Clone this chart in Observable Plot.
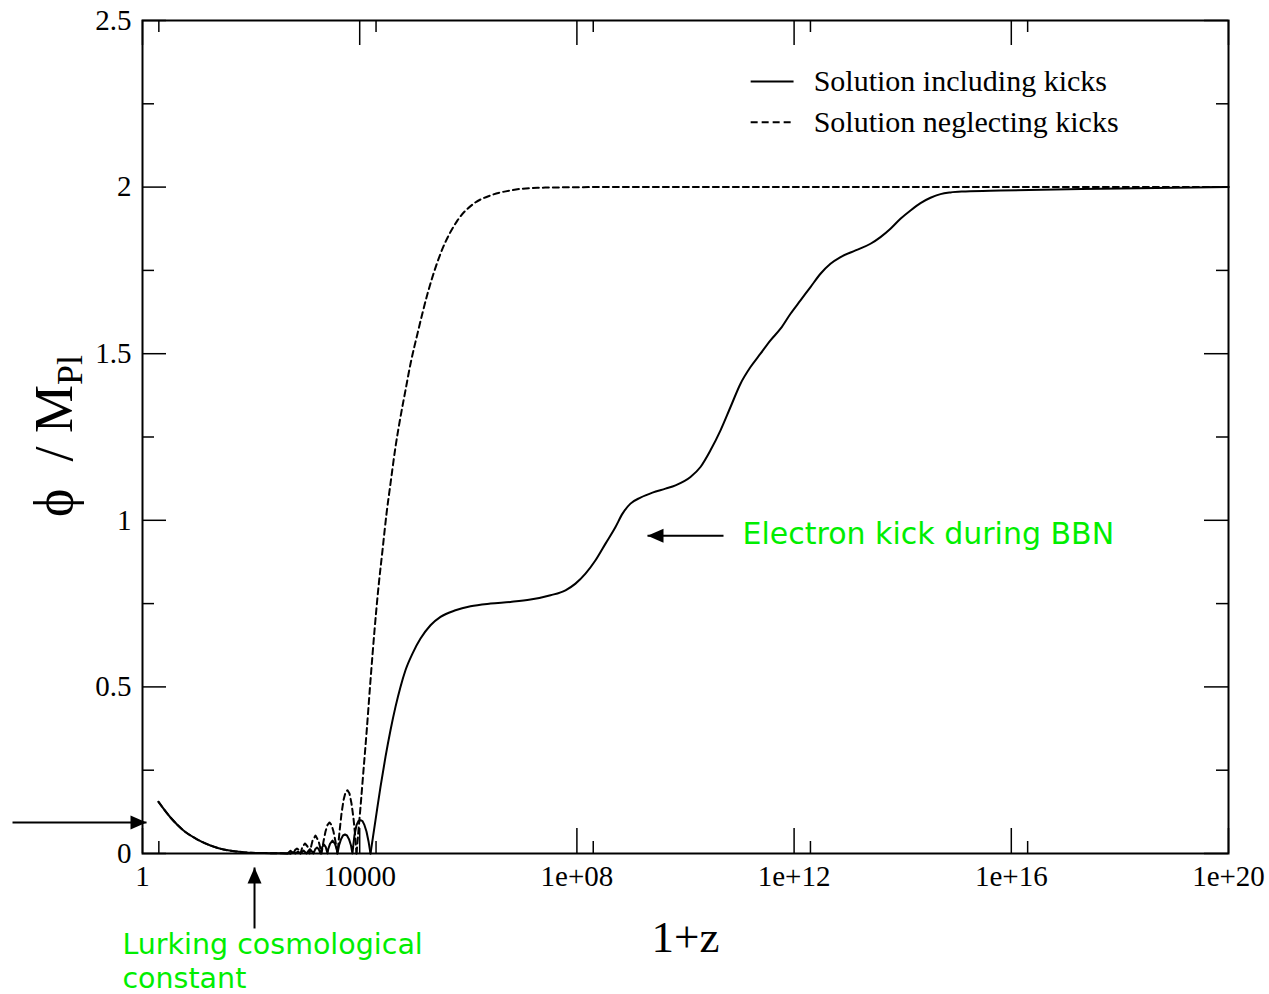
<!DOCTYPE html>
<html><head><meta charset="utf-8">
<script src="https://cdn.jsdelivr.net/npm/d3@7"></script>
<script src="https://cdn.jsdelivr.net/npm/@observablehq/plot@0.6"></script>
<style>
html,body{margin:0;padding:0;background:#fff}
#chart{width:1269px;height:994px}
</style>
</head><body><div id="chart"></div>
<script>
// ---------- data ----------
const xMajorTicks = [1, 1e4, 1e8, 1e12, 1e16, 1e20];
const xMajorLabels = ["1", "10000", "1e+08", "1e+12", "1e+16", "1e+20"];
const xMinorTicks = [2, 2e4, 2e8, 2e12, 2e16];
const yMajorTicks = [0, 0.5, 1, 1.5, 2, 2.5];
const yMajorLabels = ["0", "0.5", "1", "1.5", "2", "2.5"];
const yMinorTicks = [0.25, 0.75, 1.25, 1.75, 2.25];
const seriesNames = ["Solution including kicks", "Solution neglecting kicks"];

// log10(1+z) and phi/M_Pl, solution including kicks
const log10OnePlusZIncluding = [
  0.295, 0.516, 0.755, 1.013, 1.252, 1.492, 1.750, 1.989, 2.357, 2.726,
  2.772, 2.818, 2.864, 2.910, 2.965, 3.020, 3.085, 3.149,
  3.180, 3.214, 3.247, 3.278, 3.309, 3.343, 3.376, 3.407,
  3.422, 3.453, 3.499, 3.545, 3.576, 3.591,
  3.619, 3.656, 3.692, 3.729, 3.766, 3.803, 3.840, 3.867,
  3.886, 3.904, 3.941, 3.978, 4.015, 4.052, 4.088, 4.125, 4.162, 4.199,
  4.291, 4.383, 4.475, 4.567, 4.659, 4.751, 4.843, 4.972, 5.120, 5.304,
  5.488, 5.764, 6.041, 6.409, 6.777, 7.145, 7.514, 7.790, 7.974, 8.158,
  8.343, 8.527, 8.711, 8.840, 8.987, 9.171, 9.392, 9.632, 9.816, 10.092,
  10.276, 10.460, 10.645, 10.829, 11.013, 11.197, 11.381, 11.565, 11.750, 11.934,
  12.118, 12.302, 12.486, 12.670, 12.855, 13.131, 13.407, 13.591, 13.775, 13.959,
  14.144, 14.328, 14.512, 14.696, 14.880, 15.157, 15.801, 17.643, 20
];
const phiIncluding = [
  0.155, 0.108, 0.069, 0.042, 0.024, 0.012, 0.006, 0.002, 0.001, 0,
  0.004, 0, 0.006, 0, 0.009, 0, 0.013, 0,
  0.0127, 0.018, 0.0127, 0, 0.019, 0.027, 0.019, 0,
  0.014, 0.029, 0.039, 0.029, 0.014, 0,
  0.024, 0.043, 0.054, 0.057, 0.054, 0.043, 0.024, 0,
  0.03, 0.055, 0.085, 0.098, 0.10, 0.097, 0.085, 0.066, 0.037, 0,
  0.10, 0.20, 0.29, 0.37, 0.44, 0.50, 0.55, 0.60, 0.645, 0.685,
  0.71, 0.73, 0.742, 0.75, 0.755, 0.762, 0.775, 0.79, 0.81, 0.84,
  0.88, 0.93, 0.98, 1.02, 1.05, 1.068, 1.083, 1.095, 1.105, 1.13,
  1.16, 1.21, 1.27, 1.34, 1.41, 1.46, 1.50, 1.54, 1.575, 1.62,
  1.66, 1.70, 1.74, 1.77, 1.79, 1.81, 1.83, 1.85, 1.875, 1.905,
  1.93, 1.952, 1.968, 1.979, 1.984, 1.987, 1.99, 1.995, 2.0
];

// log10(1+z) and phi/M_Pl, solution neglecting kicks
const log10OnePlusZNeglecting = [
  0.295, 0.516, 0.755, 1.013, 1.252, 1.492, 1.750, 1.989, 2.357, 2.670,
  2.726, 2.781, 2.812, 2.845, 2.878, 2.910,
  2.947, 2.993, 3.039, 3.076,
  3.103, 3.131, 3.186, 3.241, 3.269, 3.297,
  3.333, 3.370, 3.407, 3.444, 3.481, 3.517, 3.554, 3.591,
  3.628, 3.665, 3.702, 3.738, 3.775, 3.812, 3.849, 3.886, 3.913, 3.941,
  3.978, 4.015, 4.070, 4.125, 4.199, 4.273, 4.346, 4.420, 4.494, 4.567,
  4.659, 4.751, 4.843, 4.936, 5.064, 5.249, 5.488, 5.801, 6.096, 6.409,
  6.777, 7.274, 8.435, 20
];
const phiNeglecting = [
  0.155, 0.108, 0.069, 0.042, 0.024, 0.012, 0.006, 0.002, 0.001, 0,
  0.008, 0, 0.011, 0.015, 0.011, 0,
  0.021, 0.03, 0.021, 0,
  0.02, 0.038, 0.054, 0.038, 0.02, 0,
  0.036, 0.066, 0.086, 0.093, 0.086, 0.066, 0.036, 0,
  0.065, 0.12, 0.16, 0.183, 0.19, 0.18, 0.15, 0.105, 0.06, 0,
  0.07, 0.14, 0.25, 0.36, 0.52, 0.67, 0.80, 0.91, 1.02, 1.11,
  1.22, 1.31, 1.39, 1.47, 1.56, 1.68, 1.80, 1.90, 1.95, 1.975,
  1.99, 1.998, 2.0, 2.0
];

// ---------- build tables ----------
const including = log10OnePlusZIncluding.map((l, i) => ({lx: l, x: 10 ** l, phi: phiIncluding[i]}));
const neglecting = log10OnePlusZNeglecting.map((l, i) => ({lx: l, x: 10 ** l, phi: phiNeglecting[i]}));
// oscillating stretch (drawn with straight segments so the arches keep their cusps)
const oscIncluding = [2.726, 4.199];
const oscNeglecting = [2.670, 3.941];
const part = (tbl, [a, b], which) => tbl.filter(d =>
  which === "before" ? d.lx <= a : which === "osc" ? d.lx >= a && d.lx <= b : d.lx >= b);
const xLabelOf = new Map(xMajorTicks.map((t, i) => [t, xMajorLabels[i]]));
const yLabelOf = new Map(yMajorTicks.map((t, i) => [t, yMajorLabels[i]]));

// ---------- annotations (data coordinates) ----------
const legendRows = [
  {x1: 10 ** 11.2, x2: 10 ** 11.99, xt: 10 ** 12.36, y: 2.317, label: seriesNames[0]},
  {x1: 10 ** 11.2, x2: 10 ** 11.99, xt: 10 ** 12.36, y: 2.195, label: seriesNames[1]}
];
const arrows = [
  {x1: 10 ** -2.394, y1: 0.093, x2: 10 ** 0.074, y2: 0.093, dir: "right"},
  {x1: 10 ** 10.70, y1: 0.954, x2: 10 ** 9.30, y2: 0.954, dir: "left"},
  {x1: 10 ** 2.063, y1: -0.225, x2: 10 ** 2.063, y2: -0.042, dir: "up"}
];
const greenNotes = [
  {x: 10 ** 11.05, y: 0.958, text: "Electron kick during BBN", size: 30},
  {x: 10 ** -0.37, y: -0.273, text: "Lurking cosmological", size: 28.5},
  {x: 10 ** -0.37, y: -0.377, text: "constant", size: 28.5}
];

// ---------- layout ----------
const W = 1269, H = 994, ML = 142, MR = 41, MT = 20, MB = 141;
const PW = W - ML - MR, PH = H - MT - MB;
const serif = "'Liberation Serif', 'Times New Roman', Times, serif";
const green = "#00ee00";

function headSymbol(dir) {
  const L = 16, h = 7;
  return {
    draw(ctx) {
      if (dir === "right") { ctx.moveTo(0, 0); ctx.lineTo(-L, -h); ctx.lineTo(-L, h); }
      else if (dir === "left") { ctx.moveTo(0, 0); ctx.lineTo(L, -h); ctx.lineTo(L, h); }
      else { ctx.moveTo(0, 0); ctx.lineTo(-h, L); ctx.lineTo(h, L); }
      ctx.closePath();
    }
  };
}

function seriesMarks(tbl, osc, extra) {
  const base = {x: "x", y: "phi", stroke: "#000", strokeWidth: 2, ...extra};
  return [
    Plot.line(part(tbl, osc, "before"), {...base, curve: "monotone-x"}),
    Plot.line(part(tbl, osc, "osc"), {...base, curve: "linear"}),
    Plot.line(part(tbl, osc, "after"), {...base, curve: "monotone-x"})
  ];
}

const marks = [
  // ticks (inward, all four sides)
  Plot.tickX(xMajorTicks, {x: d => d, insetTop: PH - 25, strokeWidth: 1.5}),
  Plot.tickX(xMajorTicks, {x: d => d, insetBottom: PH - 25, strokeWidth: 1.5}),
  Plot.tickX(xMinorTicks, {x: d => d, insetTop: PH - 12, strokeWidth: 1.5}),
  Plot.tickX(xMinorTicks, {x: d => d, insetBottom: PH - 12, strokeWidth: 1.5}),
  Plot.tickY(yMajorTicks, {y: d => d, insetRight: PW - 24, strokeWidth: 1.5}),
  Plot.tickY(yMajorTicks, {y: d => d, insetLeft: PW - 24, strokeWidth: 1.5}),
  Plot.tickY(yMinorTicks, {y: d => d, insetRight: PW - 12, strokeWidth: 1.5}),
  Plot.tickY(yMinorTicks, {y: d => d, insetLeft: PW - 12, strokeWidth: 1.5}),
  // axes labels
  Plot.axisX(xMajorTicks, {anchor: "bottom", tickSize: 0, tickPadding: 12, tickFormat: d => xLabelOf.get(d),
    fontSize: 29, fontFamily: serif, fill: "#000", label: null}),
  Plot.axisY(yMajorTicks, {anchor: "left", tickSize: 0, tickPadding: 11, tickFormat: d => yLabelOf.get(d),
    fontSize: 29, fontFamily: serif, fill: "#000", label: null}),
  // curves
  ...seriesMarks(including, oscIncluding, {}),
  ...seriesMarks(neglecting, oscNeglecting, {strokeDasharray: "6,4"}),
  // frame
  Plot.frame({stroke: "#000", strokeWidth: 2}),
  // legend
  Plot.link([legendRows[0]], {x1: "x1", x2: "x2", y1: "y", y2: "y", stroke: "#000", strokeWidth: 2}),
  Plot.link([legendRows[1]], {x1: "x1", x2: "x2", y1: "y", y2: "y", stroke: "#000", strokeWidth: 2, strokeDasharray: "7,4"}),
  Plot.text(legendRows, {x: "xt", y: "y", text: "label", textAnchor: "start", lineAnchor: "middle",
    fontSize: 30, fontFamily: serif, fill: "#000"}),
  // x axis title
  Plot.text(["1+z"], {frameAnchor: "bottom", text: d => d, dy: 98, fontSize: 45, fontFamily: serif, fill: "#000"}),
  // arrows
  Plot.link(arrows, {x1: "x1", y1: "y1", x2: "x2", y2: "y2", stroke: "#000", strokeWidth: 2}),
  ...arrows.map(a => Plot.dot([a], {x: "x2", y: "y2", symbol: headSymbol(a.dir), r: 6, fill: "#000", stroke: null})),
  // green annotations
  ...greenNotes.map(n => Plot.text([n], {x: "x", y: "y", text: "text", textAnchor: "start", lineAnchor: "middle",
    fontSize: n.size, fontFamily: "'DejaVu Sans', sans-serif", fill: green}))
];

const chart = Plot.plot({
  width: W, height: H,
  marginLeft: ML, marginRight: MR, marginTop: MT, marginBottom: MB,
  style: {background: "#fff", overflow: "visible"},
  x: {type: "log", domain: [1, 1e20]},
  y: {domain: [0, 2.5]},
  marks
});
document.getElementById("chart").appendChild(chart);

// y axis title with subscript
const svg = d3.select(chart.tagName.toLowerCase() === "svg" ? chart : chart.querySelector("svg"));
const yt = svg.append("text")
  .attr("transform", "translate(72,436) rotate(-90)")
  .attr("text-anchor", "middle")
  .attr("font-family", serif)
  .attr("font-size", 54)
  .attr("fill", "#000");
yt.append("tspan").text("\u03d5  / M");
yt.append("tspan").attr("font-size", 36).attr("dy", 10).text("Pl");
</script>
</body></html>
